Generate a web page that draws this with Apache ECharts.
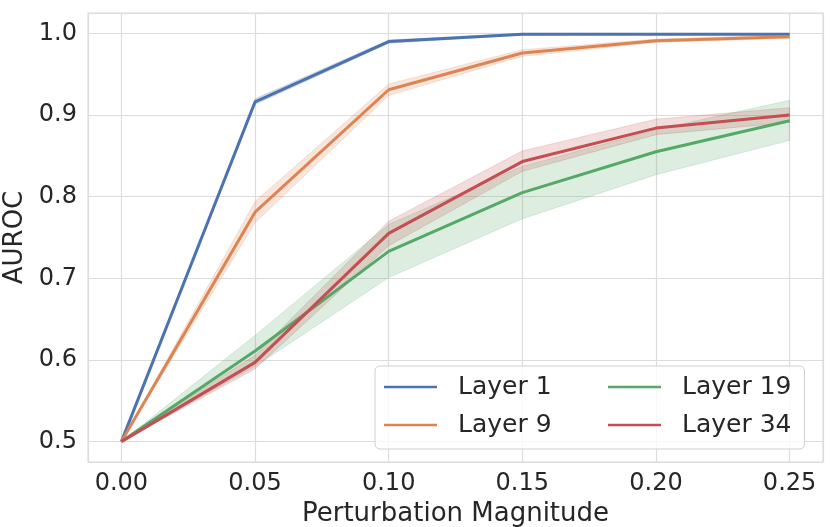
<!DOCTYPE html>
<html>
<head>
    <meta charset="utf-8">
    <script src="https://cdn.jsdelivr.net/npm/echarts@6/dist/echarts.min.js"></script>
    <style>
        html, body { margin: 0; padding: 0; background: #ffffff; }
        #chart { width: 830px; height: 527px; }
    </style>
</head>
<body>
    <div id="chart"></div>
    <script>
        // perturbation magnitudes on the x axis
        var magnitudes = [0.00, 0.05, 0.10, 0.15, 0.20, 0.25];

        // mean AUROC per layer
        var layer1Mean = [0.500, 0.916, 0.990, 0.999, 0.999, 0.999];
        var layer9Mean = [0.500, 0.781, 0.931, 0.976, 0.991, 0.996];
        var layer19Mean = [0.500, 0.611, 0.733, 0.805, 0.855, 0.893];
        var layer34Mean = [0.500, 0.597, 0.755, 0.843, 0.884, 0.900];

        // confidence band (low / high)
        var layer1Low = [0.500, 0.913, 0.988, 0.998, 0.999, 0.999];
        var layer1High = [0.500, 0.920, 0.992, 1.000, 1.000, 1.000];
        var layer9Low = [0.500, 0.768, 0.924, 0.972, 0.989, 0.994];
        var layer9High = [0.500, 0.794, 0.938, 0.980, 0.993, 0.998];
        var layer19Low = [0.500, 0.592, 0.701, 0.773, 0.827, 0.869];
        var layer19High = [0.500, 0.630, 0.766, 0.837, 0.882, 0.918];
        var layer34Low = [0.500, 0.589, 0.740, 0.831, 0.876, 0.891];
        var layer34High = [0.500, 0.606, 0.770, 0.856, 0.895, 0.909];

        var layers = [
            { name: 'Layer 1', color: '#4c72b0', fill: 'rgba(76,114,176,0.2)', mean: layer1Mean, low: layer1Low, high: layer1High },
            { name: 'Layer 9', color: '#dd8452', fill: 'rgba(221,132,82,0.2)', mean: layer9Mean, low: layer9Low, high: layer9High },
            { name: 'Layer 19', color: '#55a868', fill: 'rgba(85,168,104,0.2)', mean: layer19Mean, low: layer19Low, high: layer19High },
            { name: 'Layer 34', color: '#c44e52', fill: 'rgba(196,78,82,0.2)', mean: layer34Mean, low: layer34Low, high: layer34High }
        ];

        var FONT = 'DejaVu Sans';
        var TEXT = '#262626';
        var GRID = '#dcdcdc';

        function pairs(values) {
            return magnitudes.map(function (x, i) { return [x, values[i]]; });
        }

        var series = [];
        // shaded bands: one polygon per layer, placed with api.coord
        layers.forEach(function (l) {
            series.push({
                name: l.name + ' band',
                type: 'custom',
                silent: true,
                z: 2,
                data: [[magnitudes[0], l.low[0]]],
                renderItem: function (params, api) {
                    var pts = [];
                    magnitudes.forEach(function (x, i) { pts.push(api.coord([x, l.high[i]])); });
                    for (var i = magnitudes.length - 1; i >= 0; i--) {
                        pts.push(api.coord([magnitudes[i], l.low[i]]));
                    }
                    return {
                        type: 'polygon',
                        shape: { points: pts },
                        style: { fill: l.fill, stroke: l.fill, lineWidth: 1 }
                    };
                }
            });
        });
        layers.forEach(function (l) {
            series.push({
                name: l.name,
                type: 'line',
                data: pairs(l.mean),
                symbol: 'none',
                color: l.color,
                lineStyle: { color: l.color, width: 3 },
                itemStyle: { color: l.color },
                z: 3
            });
        });

        var legendCommon = {
            orient: 'vertical',
            icon: 'rect',
            itemWidth: 53,
            itemHeight: 2.5,
            itemGap: 8,
            textStyle: {
                fontFamily: FONT,
                fontSize: 25,
                color: TEXT,
                lineHeight: 30,
                padding: [0, 0, 0, 16]
            }
        };

        var chart = echarts.init(document.getElementById('chart'), null, { renderer: 'canvas' });

        chart.setOption({
            backgroundColor: '#ffffff',
            animation: false,
            grid: {
                left: 88, right: 7, top: 13, bottom: 65,
                containLabel: false, outerBoundsMode: 'none',
                show: true, borderColor: GRID, borderWidth: 1.2
            },
            xAxis: {
                type: 'value',
                min: -0.0125,
                max: 0.2625,
                splitNumber: 5,
                name: 'Perturbation Magnitude',
                nameLocation: 'middle',
                nameGap: 37,
                nameTextStyle: { fontFamily: FONT, fontSize: 26, color: TEXT },
                axisLine: { show: false },
                axisTick: { show: false },
                axisLabel: {
                    fontFamily: FONT, fontSize: 24, color: TEXT, margin: 10,
                    showMinLabel: false, showMaxLabel: false,
                    formatter: function (v) { return v.toFixed(2); }
                },
                splitLine: { show: true, lineStyle: { color: GRID, width: 1.2 } }
            },
            yAxis: {
                type: 'value',
                min: 0.475,
                max: 1.025,
                splitNumber: 5,
                name: 'AUROC',
                nameLocation: 'middle',
                nameGap: 56,
                nameTextStyle: { fontFamily: FONT, fontSize: 26, color: TEXT },
                axisLine: { show: false },
                axisTick: { show: false },
                axisLabel: {
                    fontFamily: FONT, fontSize: 24, color: TEXT, margin: 11,
                    showMinLabel: false, showMaxLabel: false,
                    formatter: function (v) { return v.toFixed(1); }
                },
                splitLine: { show: true, lineStyle: { color: GRID, width: 1.2 } }
            },
            legend: [
                Object.assign({}, legendCommon, {
                    data: ['Layer 1', 'Layer 9'],
                    left: 375,
                    top: 366,
                    padding: [6, 253, 9, 9],
                    backgroundColor: 'rgba(255,255,255,0.8)',
                    borderColor: '#d0d0d0',
                    borderWidth: 1,
                    borderRadius: 5
                }),
                Object.assign({}, legendCommon, {
                    data: ['Layer 19', 'Layer 34'],
                    left: 608,
                    top: 366,
                    padding: [6, 0, 9, 0]
                })
            ],
            series: series
        });

        window.onresize = function () {
            chart.resize();
        };
    </script>
</body>
</html>
